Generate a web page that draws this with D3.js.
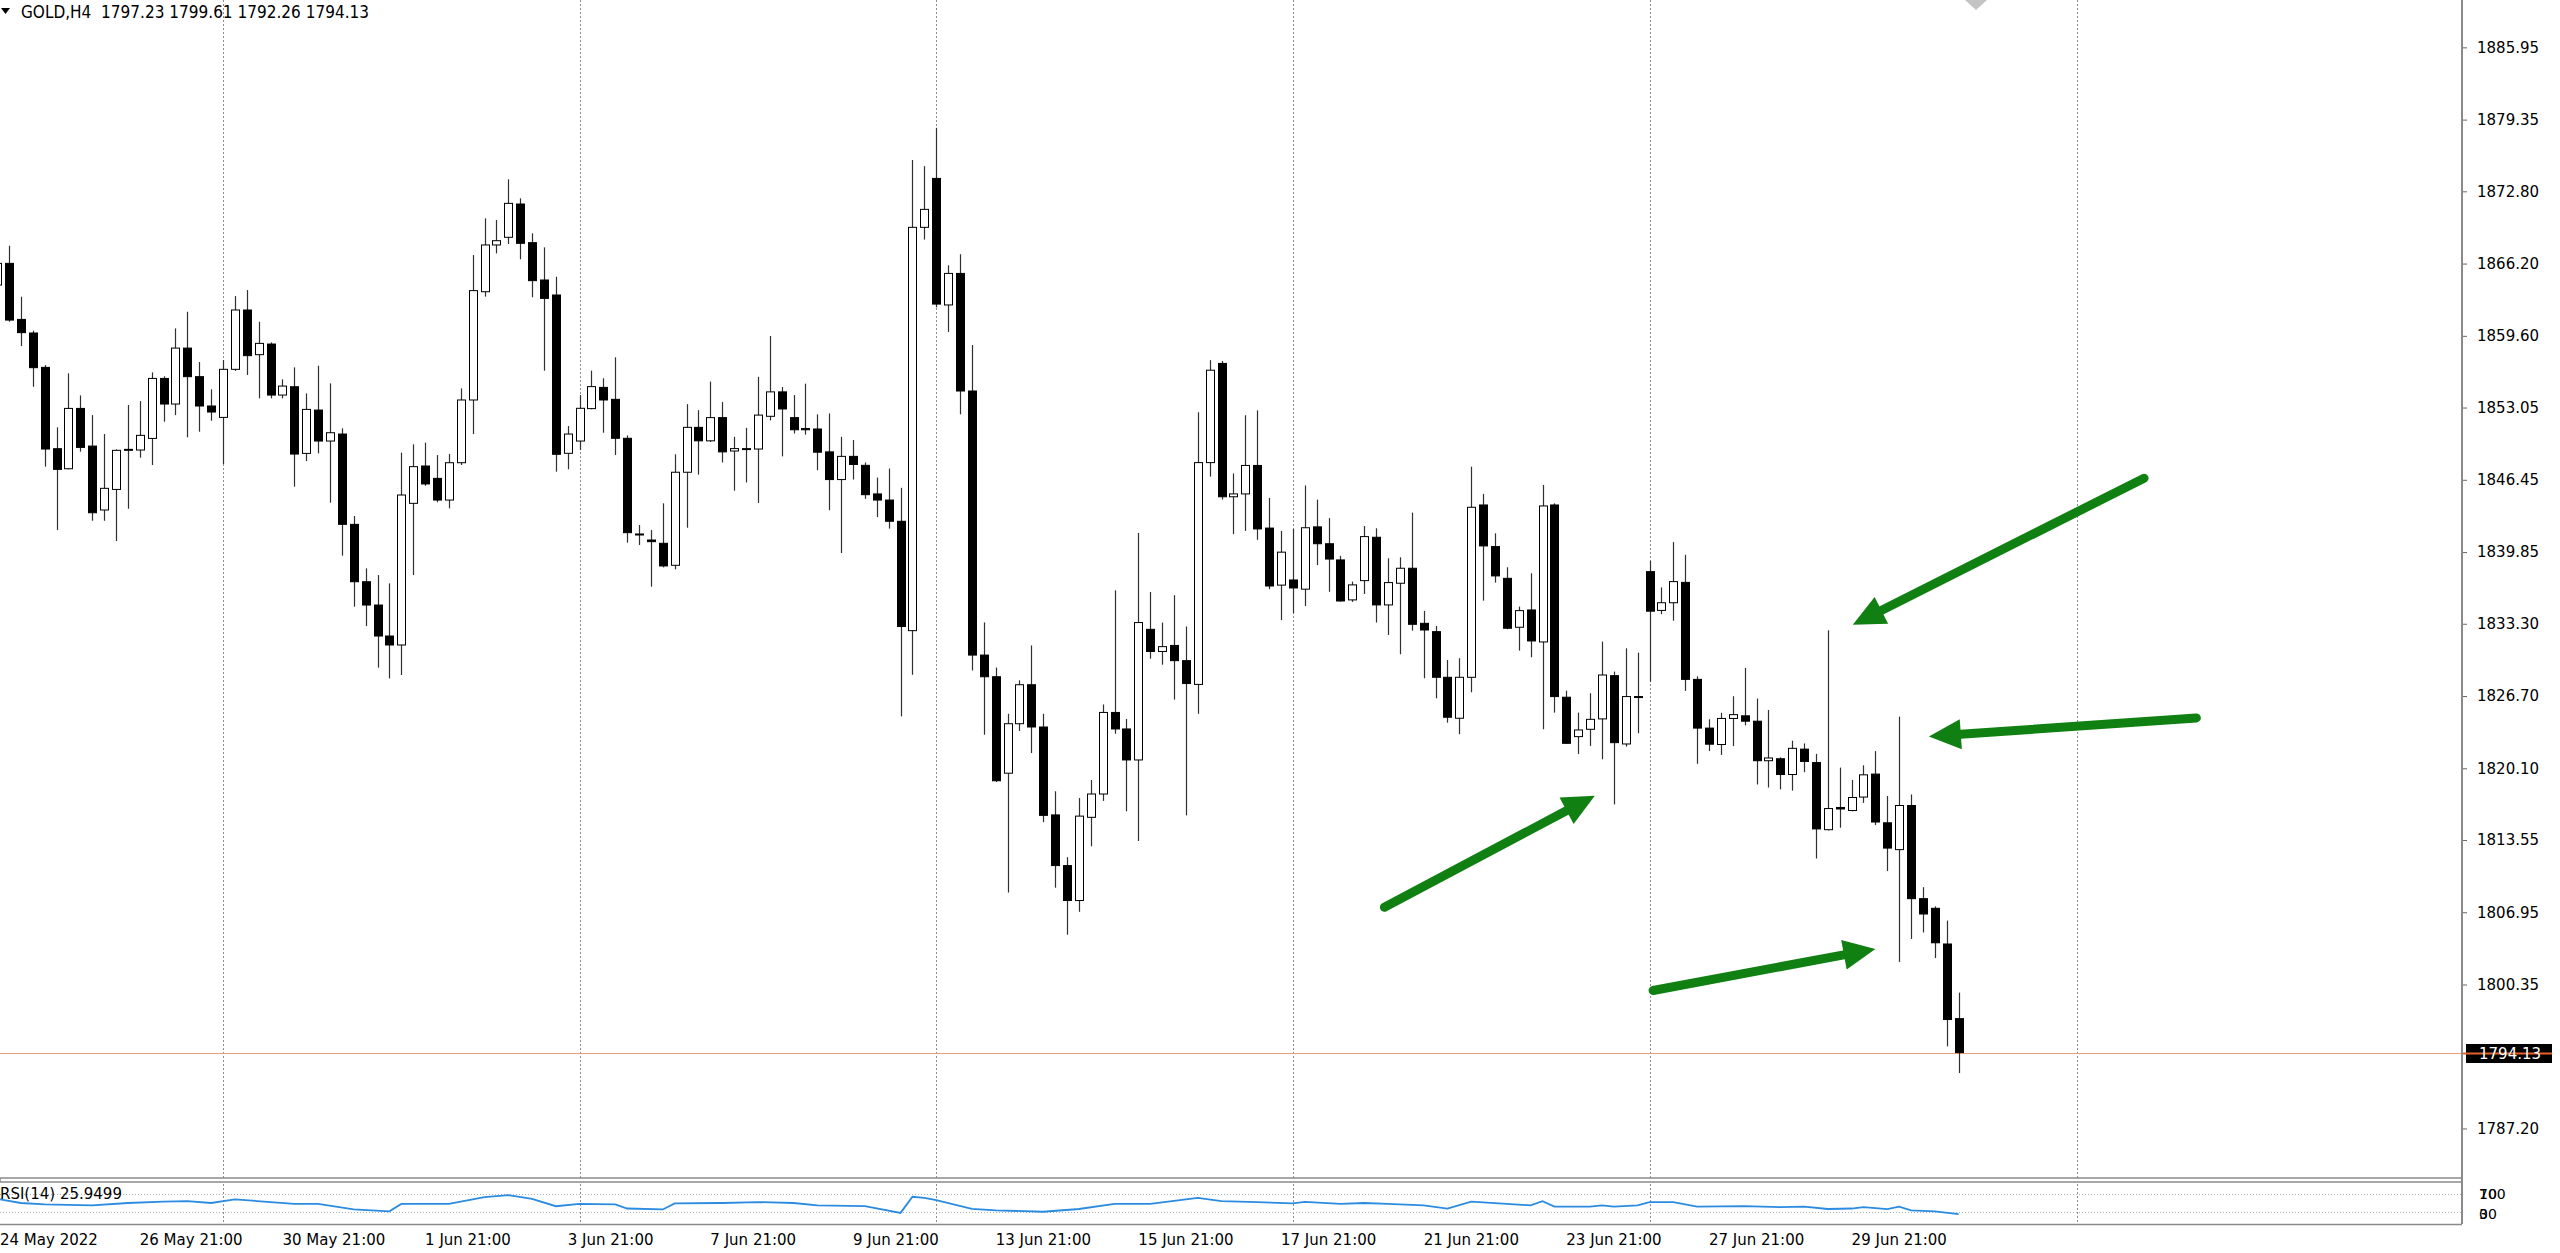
<!DOCTYPE html>
<html>
<head>
<meta charset="utf-8">
<script src="https://cdn.jsdelivr.net/npm/d3@7"></script>
<style>
  body { margin: 0; background: #fff; }
  svg { display: block; }
  text { font-family: "DejaVu Sans", sans-serif; }
</style>
</head>
<body>
<div id="chart"></div>
<script>
// GOLD H4 candles (one entry per bar, oldest first)

var opens = [1864.24, 1866.22, 1861.10, 1859.86, 1856.72, 1849.29, 1847.46, 1852.97, 1849.53, 1843.69,
    1845.57, 1849.17, 1849.17, 1850.23, 1855.71, 1853.37, 1858.48, 1855.87, 1853.19, 1852.15,
    1856.54, 1861.96, 1857.88, 1858.85, 1854.19, 1854.95, 1848.86, 1852.82, 1849.99, 1850.63,
    1842.38, 1837.14, 1835.01, 1832.18, 1831.36, 1844.30, 1847.71, 1846.58, 1844.60, 1848.01,
    1853.74, 1863.63, 1867.90, 1868.60, 1871.64, 1868.11, 1864.70, 1863.33, 1848.87, 1849.99,
    1852.95, 1854.89, 1853.80, 1850.24, 1841.50, 1840.95, 1840.65, 1838.64, 1847.14, 1851.24,
    1850.01, 1852.13, 1849.08, 1849.30, 1849.26, 1852.25, 1854.48, 1852.13, 1851.13, 1851.09,
    1849.00, 1846.47, 1848.59, 1847.77, 1845.16, 1844.60, 1842.66, 1832.67, 1869.51, 1873.98,
    1862.42, 1865.30, 1854.56, 1830.44, 1828.46, 1819.65, 1824.17, 1827.73, 1823.87, 1815.84,
    1811.21, 1808.02, 1815.62, 1817.75, 1825.20, 1823.69, 1820.86, 1832.79, 1830.77, 1831.32,
    1829.93, 1827.76, 1848.02, 1857.08, 1844.90, 1845.16, 1847.76, 1842.04, 1836.83, 1837.30,
    1836.46, 1842.15, 1840.61, 1839.13, 1835.48, 1837.24, 1841.20, 1835.02, 1837.00, 1838.37,
    1833.34, 1832.58, 1828.41, 1824.67, 1828.41, 1844.15, 1840.35, 1837.45, 1832.98, 1834.56,
    1831.64, 1844.15, 1826.59, 1822.99, 1823.66, 1824.61, 1828.56, 1822.32, 1826.65, 1838.06,
    1834.52, 1835.22, 1837.08, 1828.22, 1823.77, 1822.27, 1824.65, 1824.89, 1824.40, 1820.79,
    1820.97, 1819.53, 1821.85, 1820.62, 1814.49, 1816.52, 1816.24, 1817.47, 1819.57, 1815.12,
    1812.67, 1816.70, 1808.19, 1807.31, 1804.05, 1797.23];

var highs = [1867.50, 1867.83, 1863.17, 1860.07, 1856.93, 1851.24, 1856.17, 1854.16, 1852.36, 1850.63,
    1849.23, 1853.28, 1853.64, 1856.26, 1855.90, 1860.28, 1861.80, 1857.21, 1854.71, 1857.39,
    1863.23, 1863.78, 1860.89, 1859.00, 1855.62, 1856.72, 1854.34, 1856.87, 1855.26, 1851.15,
    1843.14, 1838.36, 1837.75, 1836.99, 1848.93, 1849.69, 1849.84, 1848.71, 1848.81, 1854.80,
    1866.98, 1870.33, 1870.18, 1873.89, 1872.16, 1868.96, 1867.68, 1865.00, 1851.36, 1854.19,
    1856.42, 1855.72, 1857.64, 1850.50, 1842.32, 1841.86, 1844.30, 1848.78, 1853.36, 1852.81,
    1855.42, 1853.55, 1850.38, 1851.20, 1855.86, 1859.59, 1854.93, 1854.19, 1855.23, 1852.43,
    1852.51, 1850.38, 1850.08, 1848.03, 1846.65, 1847.48, 1845.72, 1875.66, 1875.10, 1878.60,
    1866.04, 1867.05, 1858.77, 1833.42, 1829.30, 1825.08, 1828.13, 1831.32, 1825.08, 1818.00,
    1811.98, 1817.38, 1819.03, 1825.93, 1836.35, 1824.61, 1841.60, 1836.20, 1833.41, 1835.91,
    1833.05, 1852.61, 1857.38, 1857.30, 1847.03, 1852.35, 1852.79, 1844.79, 1841.78, 1841.96,
    1845.93, 1844.64, 1842.95, 1839.50, 1837.15, 1842.23, 1842.02, 1839.28, 1839.37, 1843.45,
    1834.47, 1833.10, 1829.99, 1830.15, 1847.65, 1845.16, 1841.56, 1838.46, 1834.87, 1837.91,
    1845.98, 1844.30, 1827.19, 1825.18, 1826.95, 1831.67, 1828.93, 1831.06, 1830.66, 1839.04,
    1836.62, 1840.76, 1839.60, 1828.50, 1824.58, 1825.17, 1826.68, 1829.27, 1826.47, 1825.42,
    1821.10, 1822.62, 1822.37, 1821.42, 1832.70, 1820.16, 1819.04, 1820.37, 1821.67, 1817.57,
    1824.82, 1817.71, 1809.24, 1807.49, 1806.19, 1799.61];

var lows = [1862.00, 1860.89, 1858.67, 1854.95, 1847.65, 1841.86, 1847.40, 1849.02, 1842.71, 1842.71,
    1840.86, 1843.81, 1848.47, 1847.80, 1851.76, 1852.36, 1850.33, 1850.84, 1851.85, 1847.89,
    1856.40, 1856.02, 1853.89, 1853.89, 1853.89, 1845.82, 1848.16, 1848.86, 1844.36, 1839.52,
    1834.86, 1833.09, 1829.29, 1828.31, 1828.62, 1837.75, 1845.90, 1844.40, 1843.84, 1847.80,
    1850.63, 1863.18, 1867.13, 1867.99, 1866.59, 1863.12, 1856.42, 1847.19, 1847.41, 1849.17,
    1852.89, 1850.75, 1848.71, 1840.71, 1840.49, 1836.69, 1838.45, 1838.27, 1842.07, 1846.92,
    1849.90, 1848.03, 1845.46, 1846.21, 1844.34, 1851.87, 1848.59, 1850.68, 1850.57, 1847.33,
    1843.67, 1839.76, 1846.47, 1844.71, 1843.04, 1841.99, 1824.84, 1828.65, 1868.39, 1862.20,
    1859.96, 1852.43, 1829.02, 1823.17, 1818.85, 1808.75, 1823.51, 1821.49, 1815.18, 1809.19,
    1804.90, 1806.99, 1812.97, 1817.12, 1823.25, 1816.17, 1813.45, 1830.11, 1829.56, 1826.37,
    1815.80, 1825.08, 1846.74, 1844.64, 1841.49, 1841.78, 1840.97, 1836.46, 1833.63, 1834.26,
    1834.92, 1838.66, 1836.22, 1835.32, 1835.30, 1836.02, 1833.41, 1832.28, 1830.51, 1832.67,
    1828.32, 1826.49, 1824.27, 1823.21, 1827.04, 1835.41, 1837.06, 1832.80, 1830.85, 1830.24,
    1823.66, 1825.18, 1822.32, 1821.41, 1822.14, 1820.92, 1816.80, 1822.08, 1823.30, 1828.00,
    1834.17, 1833.58, 1827.17, 1820.51, 1821.67, 1821.32, 1822.13, 1824.02, 1818.62, 1818.34,
    1818.17, 1818.06, 1819.74, 1811.86, 1814.42, 1814.67, 1816.17, 1816.94, 1814.91, 1810.71,
    1802.41, 1804.51, 1805.10, 1802.76, 1794.70, 1792.26];

var closes = [1866.22, 1861.04, 1859.89, 1856.69, 1849.26, 1847.40, 1852.97, 1849.41, 1843.44, 1845.67,
    1849.14, 1849.23, 1850.51, 1855.71, 1853.37, 1858.48, 1855.87, 1853.19, 1852.64, 1856.54,
    1861.96, 1857.79, 1858.91, 1854.19, 1855.01, 1848.80, 1852.88, 1849.99, 1850.75, 1842.38,
    1837.14, 1835.01, 1832.18, 1831.36, 1845.06, 1847.65, 1846.07, 1844.60, 1848.01, 1853.74,
    1863.73, 1867.90, 1868.29, 1871.70, 1868.05, 1864.64, 1863.02, 1848.78, 1850.63, 1852.98,
    1854.96, 1853.74, 1850.24, 1841.62, 1841.41, 1840.80, 1838.58, 1847.14, 1851.24, 1850.01,
    1852.13, 1849.00, 1849.30, 1849.30, 1852.36, 1854.48, 1852.92, 1851.02, 1851.02, 1848.97,
    1846.47, 1848.59, 1847.85, 1845.09, 1844.60, 1842.66, 1833.05, 1869.51, 1871.15, 1862.50,
    1865.30, 1854.56, 1830.44, 1828.46, 1818.96, 1824.17, 1827.73, 1823.87, 1815.80, 1811.21,
    1808.02, 1815.73, 1817.75, 1825.20, 1823.69, 1820.86, 1833.41, 1830.77, 1831.21, 1829.93,
    1827.84, 1848.02, 1856.46, 1844.90, 1845.16, 1847.76, 1841.96, 1836.75, 1839.84, 1836.57,
    1842.07, 1840.61, 1839.21, 1835.38, 1836.85, 1841.26, 1835.02, 1837.06, 1838.37, 1833.25,
    1832.73, 1828.41, 1824.76, 1828.41, 1843.94, 1840.41, 1837.67, 1832.89, 1834.50, 1831.73,
    1844.06, 1826.65, 1822.38, 1823.60, 1824.57, 1828.62, 1822.44, 1826.65, 1826.59, 1834.45,
    1835.22, 1837.15, 1828.22, 1823.77, 1822.30, 1824.65, 1825.00, 1824.40, 1820.79, 1821.04,
    1819.53, 1821.92, 1820.72, 1814.56, 1816.42, 1816.38, 1817.43, 1819.50, 1815.19, 1812.81,
    1816.70, 1808.19, 1806.79, 1804.16, 1797.15, 1794.13];

// price axis labels
var priceTicks = [1885.95, 1879.35, 1872.80, 1866.20, 1859.60, 1853.05, 1846.45, 1839.85,
    1833.30, 1826.70, 1820.10, 1813.55, 1806.95, 1800.35, 1787.20];
var lastPrice = 1794.13;

// time axis labels (bar index each label sits on)
var dateBars = [0, 12, 24, 36, 48, 60, 72, 84, 96, 108, 120, 132, 144, 156];
var dateLabels = ["24 May 2022", "26 May 21:00", "30 May 21:00", "1 Jun 21:00", "3 Jun 21:00",
    "7 Jun 21:00", "9 Jun 21:00", "13 Jun 21:00", "15 Jun 21:00", "17 Jun 21:00",
    "21 Jun 21:00", "23 Jun 21:00", "27 Jun 21:00", "29 Jun 21:00"];

// weekly grid lines (bar index)
var gridBars = [19, 49, 79, 109, 139, 175];

// RSI(14) line, read at these bars
var rsiBars = [0, 2, 4, 8, 11, 14, 16, 18, 20, 23, 25, 27, 30, 33, 34, 38, 41, 43, 45, 47,
    49, 52, 53, 56, 57, 61, 64, 67, 69, 73, 76, 77, 78, 79, 82, 84, 88, 91, 94, 97,
    101, 103, 106, 109, 110, 113, 115, 117, 120, 122, 124, 127, 129, 130, 131, 134, 135, 136, 138, 139,
    141, 143, 147, 150, 152, 154, 156, 157, 159, 160, 161, 163, 165];
var rsiValues = [59, 50, 47, 45, 50, 53, 54, 50, 58, 52, 48, 48, 36, 32, 48, 48, 63, 67, 59, 43,
    48, 47, 38, 36, 49, 50, 52, 50, 45, 43, 28.5, 63.5, 61, 56, 37, 34, 31, 37, 48, 48,
    61, 54, 52, 49, 52.5, 48, 50, 48, 45, 38, 53, 48, 45, 54, 42, 42, 45, 42, 45, 52,
    52, 42, 43, 41, 42, 37, 38, 41, 36.6, 42, 34, 32, 25.95];
var rsiLast = "25.9499";
var rsiLevels = [70, 30];

// green annotation arrows: [bar, price] at the tail and at the tip
var arrowTails = [[180.6, 1846.6], [185.0, 1824.7], [116.7, 1807.4], [139.3, 1799.8]];
var arrowTips = [[156.1, 1833.2], [162.5, 1823.0], [134.4, 1817.6], [158.0, 1803.6]];

// SVG container size

var svgWidth = 2560;
var svgHeight = 1253;
var axisX = 2462;
var mainBottom = 1178;
var rsiBottom = 1224;

var svg = d3.select("#chart")
    .append("svg")
    .attr("width", svgWidth)
    .attr("height", svgHeight)
    .style("background", "#fff");

var x = d3.scaleLinear().domain([0, 165]).range([-2.9, 1958.6]);
var y = d3.scaleLinear().domain([1885.95, 1787.20]).range([47.35, 1128.46]);
var rsiY = d3.scaleLinear().domain([0, 100]).range([1226, 1180]);

function px(i) {
    return Math.round(x(i)) + 0.5;
}

// grid lines, through both panes
svg.append("g")
    .selectAll("line")
    .data(gridBars)
    .enter()
    .append("line")
    .attr("x1", d => px(d))
    .attr("x2", d => px(d))
    .attr("y1", 0)
    .attr("y2", rsiBottom)
    .attr("stroke", "#8c8c8c")
    .attr("stroke-dasharray", "2,2")
    .attr("stroke-width", 1);

// current price line
svg.append("line")
    .attr("x1", 0)
    .attr("x2", axisX)
    .attr("y1", Math.round(y(lastPrice)) + 0.5)
    .attr("y2", Math.round(y(lastPrice)) + 0.5)
    .attr("stroke", "#e8a07a")
    .attr("stroke-width", 1);

// candles
var candleGroup = svg.append("g");
var bars = d3.range(opens.length);

candleGroup.selectAll("line")
    .data(bars)
    .enter()
    .append("line")
    .attr("x1", d => px(d))
    .attr("x2", d => px(d))
    .attr("y1", d => y(highs[d]))
    .attr("y2", d => y(lows[d]))
    .attr("stroke", "#303030")
    .attr("stroke-width", 1.2);

candleGroup.selectAll("rect")
    .data(bars)
    .enter()
    .append("rect")
    .attr("x", d => px(d) - 4)
    .attr("width", 8)
    .attr("y", d => y(Math.max(opens[d], closes[d])))
    .attr("height", d => Math.max(1, Math.abs(y(opens[d]) - y(closes[d]))))
    .attr("fill", d => closes[d] >= opens[d] ? "#fff" : "#000")
    .attr("stroke", "#000")
    .attr("stroke-width", 1);

// arrows
var arrowGroup = svg.append("g");
var arrowColor = "#118012";

arrowTails.forEach(function (tail, i) {
    var x0 = x(tail[0]), y0 = y(tail[1]);
    var x1 = x(arrowTips[i][0]), y1 = y(arrowTips[i][1]);
    var len = Math.hypot(x1 - x0, y1 - y0);
    var ux = (x1 - x0) / len, uy = (y1 - y0) / len;
    var headLen = 32, headHalf = 15;
    var bx = x1 - ux * headLen, by = y1 - uy * headLen;

    arrowGroup.append("line")
        .attr("x1", x0)
        .attr("y1", y0)
        .attr("x2", bx + ux * 4)
        .attr("y2", by + uy * 4)
        .attr("stroke", arrowColor)
        .attr("stroke-width", 9)
        .attr("stroke-linecap", "round");

    arrowGroup.append("path")
        .attr("d", "M" + x1 + "," + y1 +
            "L" + (bx - uy * headHalf) + "," + (by + ux * headHalf) +
            "L" + (bx + uy * headHalf) + "," + (by - ux * headHalf) + "Z")
        .attr("fill", arrowColor);
});

// chart shift marker at the top
svg.append("path")
    .attr("d", "M1965,0 L1987,0 L1976,10 Z")
    .attr("fill", "#c4c4c4");

// header
svg.append("path")
    .attr("d", "M1,8 L10,8 L5.5,14 Z")
    .attr("fill", "#000");

svg.append("text")
    .attr("x", 21)
    .attr("y", 18)
    .attr("font-size", 17)
    .attr("font-family", "DejaVu Sans Condensed, DejaVu Sans, sans-serif")
    .attr("textLength", 348)
    .attr("lengthAdjust", "spacingAndGlyphs")
    .attr("xml:space", "preserve")
    .text("GOLD,H4  " + [opens[165], highs[165], lows[165], closes[165]].map(d3.format(".2f")).join(" "));

// price axis
var rightAxis = d3.axisRight(y)
    .tickValues(priceTicks)
    .tickFormat(d3.format(".2f"))
    .tickSize(5)
    .tickPadding(10);

var yAxis = svg.append("g")
    .attr("transform", `translate(${axisX}, 0)`)
    .call(rightAxis);

yAxis.select(".domain").remove();
yAxis.selectAll("line").attr("stroke", "#666");
yAxis.selectAll("text")
    .attr("font-family", "DejaVu Sans, sans-serif")
    .attr("font-size", 15)
    .attr("fill", "#000");

// last price box
var lastY = Math.round(y(lastPrice));
svg.append("rect")
    .attr("x", axisX + 4)
    .attr("y", lastY - 9)
    .attr("width", 86)
    .attr("height", 19)
    .attr("fill", "#000");
svg.append("line")
    .attr("x1", axisX)
    .attr("x2", axisX + 90)
    .attr("y1", lastY + 0.5)
    .attr("y2", lastY + 0.5)
    .attr("stroke", "#e8602a")
    .attr("stroke-width", 2);
svg.append("text")
    .attr("x", axisX + 17)
    .attr("y", lastY + 6)
    .attr("font-size", 15)
    .attr("fill", "#fff")
    .text(d3.format(".2f")(lastPrice));

// pane separator
svg.append("rect")
    .attr("x", 0)
    .attr("y", mainBottom)
    .attr("width", axisX)
    .attr("height", 4)
    .attr("fill", "#fff")
    .attr("stroke", "#8a8a8a")
    .attr("stroke-width", 1.5);

// RSI pane
svg.append("g")
    .selectAll("line")
    .data(rsiLevels)
    .enter()
    .append("line")
    .attr("x1", 0)
    .attr("x2", axisX)
    .attr("y1", d => Math.round(rsiY(d)) + 0.5)
    .attr("y2", d => Math.round(rsiY(d)) + 0.5)
    .attr("stroke", "#b0b0b0")
    .attr("stroke-dasharray", "1,2");

var rsiLine = d3.line()
    .x((d, i) => x(rsiBars[i]))
    .y(d => rsiY(d));

svg.append("path")
    .datum(rsiValues)
    .attr("d", rsiLine)
    .attr("fill", "none")
    .attr("stroke", "#2b8be0")
    .attr("stroke-width", 1.8);

svg.append("text")
    .attr("x", 0)
    .attr("y", 1199)
    .attr("font-size", 15)
    .attr("font-family", "DejaVu Sans Condensed, DejaVu Sans, sans-serif")
    .text("RSI(14) " + rsiLast);

// RSI axis labels, squeezed together as in the terminal
var rsiLabelGroup = svg.append("g")
    .attr("font-size", 14)
    .attr("font-family", "DejaVu Sans, sans-serif");
[["100", 1199], ["70", 1199], ["30", 1219], ["0", 1219]].forEach(function (d) {
    rsiLabelGroup.append("text")
        .attr("x", axisX + 17)
        .attr("y", d[1])
        .text(d[0]);
});

// pane borders
svg.append("line")
    .attr("x1", 0)
    .attr("x2", axisX)
    .attr("y1", rsiBottom + 0.5)
    .attr("y2", rsiBottom + 0.5)
    .attr("stroke", "#8a8a8a")
    .attr("stroke-width", 1.5);

svg.append("line")
    .attr("x1", axisX)
    .attr("x2", axisX)
    .attr("y1", 0)
    .attr("y2", rsiBottom)
    .attr("stroke", "#8a8a8a")
    .attr("stroke-width", 2);

// time axis
var bottomAxis = d3.axisBottom(x)
    .tickValues(dateBars)
    .tickFormat((d, i) => dateLabels[i])
    .tickSize(0)
    .tickPadding(10);

var xAxis = svg.append("g")
    .attr("transform", `translate(0, ${rsiBottom})`)
    .call(bottomAxis);

xAxis.select(".domain").remove();
xAxis.selectAll(".tick")
    .attr("transform", d => `translate(${Math.max(0, x(d))}, 0)`);
xAxis.selectAll("text")
    .attr("text-anchor", "start")
    .attr("font-family", "DejaVu Sans Condensed, DejaVu Sans, sans-serif")
    .attr("font-size", 15)
    .attr("fill", "#000");
</script>
</body>
</html>
